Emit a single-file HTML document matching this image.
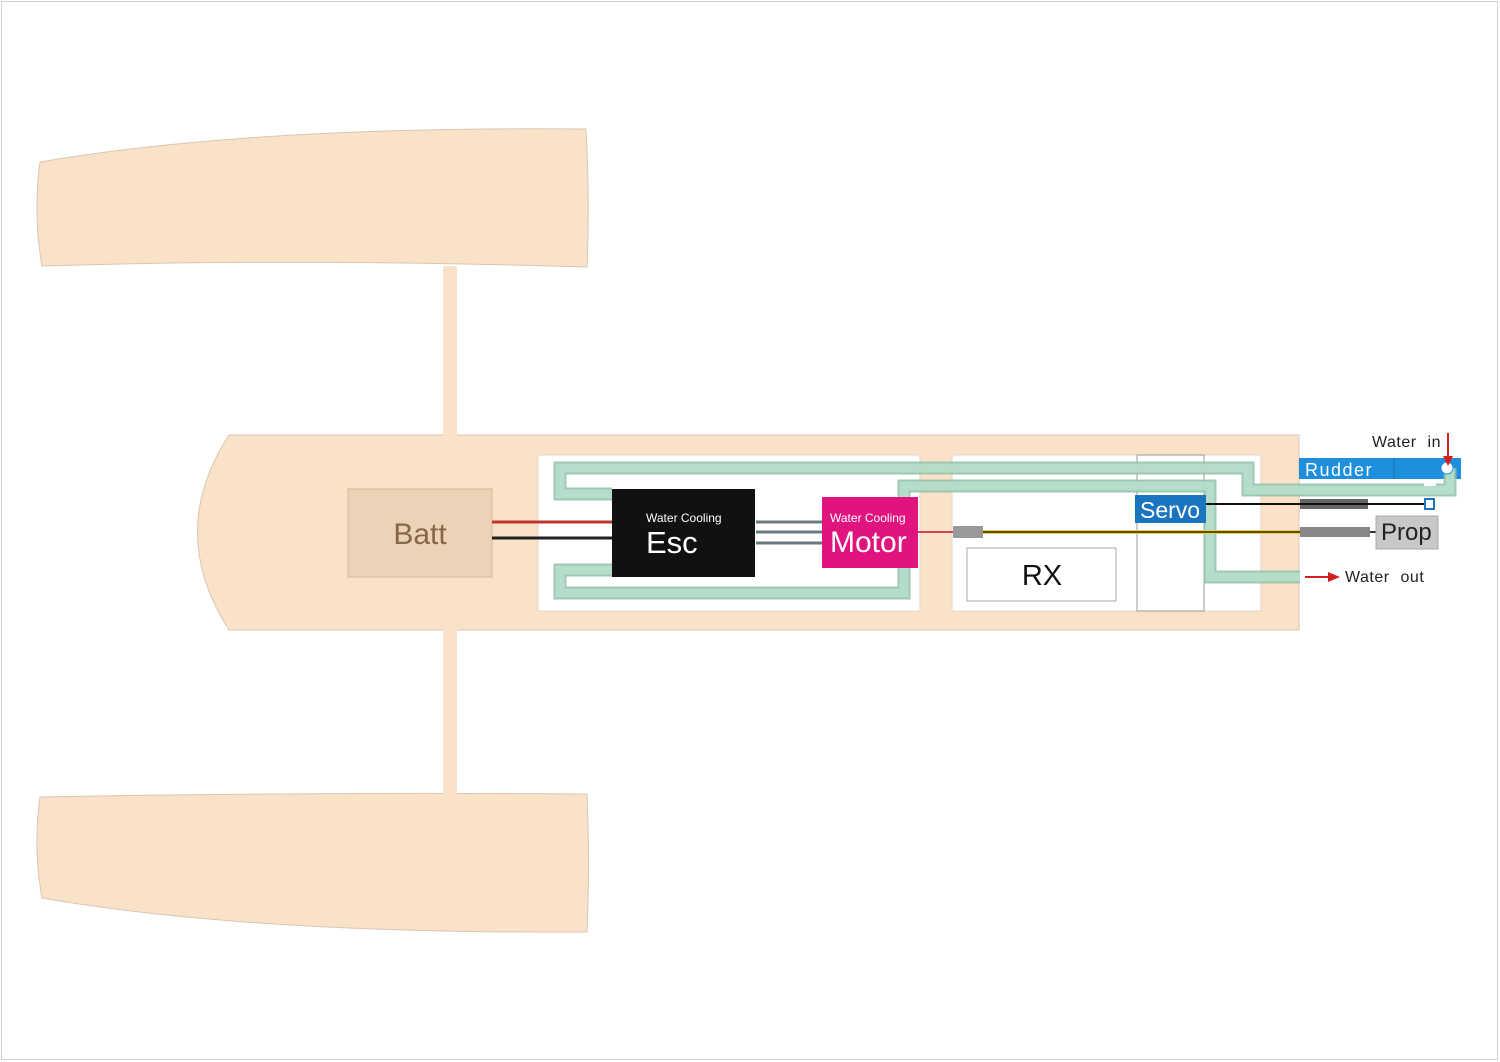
<!DOCTYPE html>
<html><head><meta charset="utf-8"><style>
html,body{margin:0;padding:0;background:#fff}
svg{display:block}
text{font-family:"Liberation Sans",Arial,sans-serif}
</style></head><body>
<svg width="1500" height="1062" viewBox="0 0 1500 1062" xmlns="http://www.w3.org/2000/svg">
<rect x="1.5" y="1.5" width="1496" height="1058" fill="#fff" stroke="#d0d0d0" stroke-width="1"/>
<g fill="#fae2c8" stroke="#d9c6b2" stroke-width="1">
<path d="M40,162 Q250,126 586,129 Q590,200 587,267 Q300,258 42,266 Q33,215 40,162 Z"/>
<path d="M40,797 Q300,792 587,794 Q590,860 587,932 Q250,934 42,898 Q33,848 40,797 Z"/>
<path d="M229,435 L1299,435 L1299,630 L229,630 Q166,532 229,435 Z"/>
</g>
<rect x="443" y="266" width="14" height="172" fill="#fae2c8"/>
<rect x="443" y="628" width="14" height="168" fill="#fae2c8"/>
<rect x="538" y="455" width="382" height="156" fill="#fff" stroke="#e6d6c6"/>
<rect x="952" y="455" width="309" height="156" fill="#fff" stroke="#e6d6c6"/>
<rect x="1137" y="455" width="67" height="156" fill="#fff" stroke="#9a9a9a"/>
<rect x="967" y="548" width="149" height="53" fill="#fff" stroke="#a8a8a8"/>
<text x="1042" y="585" font-size="29" text-anchor="middle" fill="#111">RX</text>
<rect x="1299" y="458" width="162" height="21" fill="#1e8fdc"/>
<line x1="1394" y1="458" x2="1394" y2="479" stroke="#1570b4"/>
<text x="1305" y="476" font-size="18" letter-spacing="1.5" fill="#fff">Rudder</text>
<g fill="none" stroke-linejoin="miter">
<polyline points="612,494 560,494 560,468 1248,468 1248,490 1450,490 1450,468" stroke="#8fbfa8" stroke-width="13" opacity="0.85"/>
<polyline points="612,494 560,494 560,468 1248,468 1248,490 1450,490 1450,468" stroke="#b9e0cc" stroke-width="9" opacity="0.85"/>
<polyline points="612,570 560,570 560,593 904,593 904,486 1210,486 1210,577 1300,577" stroke="#8fbfa8" stroke-width="13" opacity="0.85"/>
<polyline points="612,570 560,570 560,593 904,593 904,486 1210,486 1210,577 1300,577" stroke="#b9e0cc" stroke-width="9" opacity="0.85"/>
</g>
<rect x="1424" y="479" width="12" height="7" fill="#fff"/>
<circle cx="1447" cy="468" r="6" fill="#fff" stroke="#1e8fdc"/>
<rect x="348" y="489" width="144" height="88" fill="#ecd2b6" stroke="#d4b898"/>
<text x="420" y="544" font-size="30" text-anchor="middle" fill="#86674a">Batt</text>
<line x1="492" y1="522" x2="612" y2="522" stroke="#c0352a" stroke-width="3"/>
<line x1="492" y1="538" x2="612" y2="538" stroke="#222" stroke-width="3"/>
<rect x="612" y="489" width="143" height="88" fill="#111"/>
<text x="646" y="522" font-size="12" fill="#fff">Water Cooling</text>
<text x="646" y="553" font-size="31" fill="#fff">Esc</text>
<g stroke="#6a7a7c" stroke-width="3"><line x1="756" y1="522" x2="822" y2="522"/><line x1="756" y1="532" x2="822" y2="532"/><line x1="756" y1="543" x2="822" y2="543"/></g>
<rect x="822" y="497" width="96" height="71" fill="#e0137f"/>
<text x="830" y="522" font-size="12" fill="#fff">Water Cooling</text>
<text x="830" y="552" font-size="30" fill="#fff">Motor</text>
<line x1="918" y1="532" x2="955" y2="532" stroke="#d0455a" stroke-width="2"/>
<line x1="983" y1="532" x2="1300" y2="532" stroke="#f0d030" stroke-width="4"/>
<line x1="983" y1="532" x2="1300" y2="532" stroke="#222" stroke-width="1.5"/>
<rect x="953" y="526" width="30" height="12" fill="#999"/>
<rect x="1300" y="527" width="70" height="10" fill="#888"/>
<line x1="1370" y1="532" x2="1377" y2="532" stroke="#333" stroke-width="2"/>
<rect x="1376" y="516" width="62" height="33" fill="#c8c8c8" stroke="#aaa"/>
<text x="1381" y="540" font-size="24" fill="#222">Prop</text>
<rect x="1135" y="495" width="71" height="28" fill="#1a74c0"/>
<text x="1140" y="518" font-size="23" fill="#fff">Servo</text>
<rect x="1300" y="499" width="68" height="10" fill="#666"/>
<line x1="1206" y1="504" x2="1428" y2="504" stroke="#111" stroke-width="2"/>
<rect x="1425" y="499" width="9" height="10" fill="#fff" stroke="#1a74c0" stroke-width="2"/>
<text x="1372" y="447" font-size="16" word-spacing="6" letter-spacing="0.5" fill="#222">Water in</text>
<line x1="1448" y1="433" x2="1448" y2="458" stroke="#d02020" stroke-width="2"/>
<polygon points="1443,456 1453,456 1448,466" fill="#d02020"/>
<line x1="1305" y1="577" x2="1330" y2="577" stroke="#d02020" stroke-width="2"/>
<polygon points="1328,572 1340,577 1328,582" fill="#d02020"/>
<text x="1345" y="582" font-size="16" word-spacing="6" letter-spacing="0.5" fill="#222">Water out</text>
</svg>
</body></html>
